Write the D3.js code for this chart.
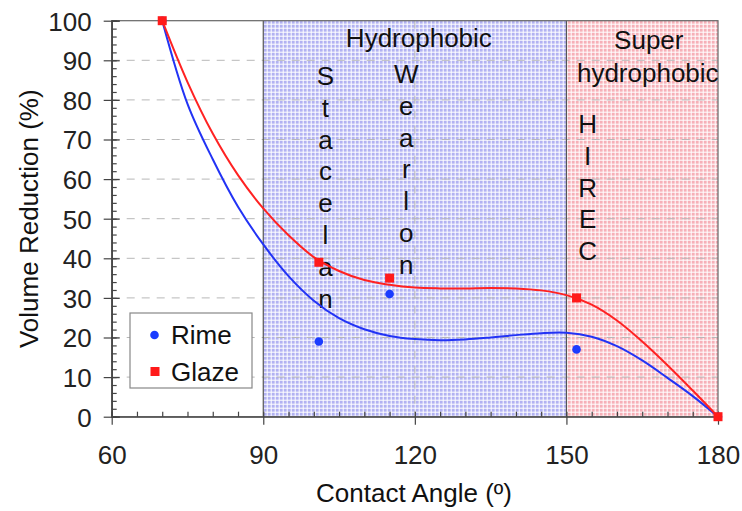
<!DOCTYPE html>
<html lang="en">
<head>
<meta charset="utf-8">
<title>Volume Reduction vs Contact Angle</title>
<script src="https://d3js.org/d3.v7.min.js"></script>
<style>
  html, body { margin: 0; padding: 0; background: #fff; }
  svg { font-family: "Liberation Sans", Arial, Helvetica, sans-serif; }
  .axis path, .axis line { stroke: #444; stroke-width: 1.2; }
  .axis text { font-size: 26px; fill: #222; }
  .grid line { stroke: #b8b8b8; stroke-dasharray: 8 7; stroke-width: 1; }
  .label { font-size: 26px; fill: #111; }
</style>
</head>
<body>
<svg id="chart" width="742" height="511"></svg>
<script>
// --- data ---
var xTicks = [60, 90, 120, 150, 180];
var yTicks = [0, 10, 20, 30, 40, 50, 60, 70, 80, 90, 100];

// measured points
var rimeAngle = [70, 101, 115, 152, 180];
var rimeValue = [100, 19, 31, 17, 0];
var glazeAngle = [70, 101, 115, 152, 180];
var glazeValue = [100, 39, 35, 30, 0];

// fitted trend curves, sampled from the figure
var fitAngle = [70, 75, 80, 85, 90, 95, 100, 105, 110, 115, 120, 125, 130, 135, 140, 145, 150, 155, 160, 165, 170, 175, 180];
var rimeFit = [100, 79, 65, 53, 43.5, 35.5, 29.3, 24.9, 22.1, 20.4, 19.6, 19.3, 19.5, 20, 20.6, 21.1, 21.2, 20.2, 17.8, 14.2, 9.8, 5.2, 0];
var glazeFit = [100, 84.5, 71.5, 61, 52.6, 45.8, 40.3, 36.8, 34.5, 33.3, 32.6, 32.4, 32.4, 32.5, 32.4, 31.9, 30.7, 28.3, 24.3, 19, 13, 6.6, 0];

// shaded regions
var regions = [
  {name: "Hydrophobic", from: 90, to: 150, fill: "url(#dotsBlue)"},
  {name: "Superhydrophobic", from: 150, to: 180, fill: "url(#dotsRed)"}
];

// coating names written vertically
var coatings = [
  {name: "Stacelan", angle: 102.3, top: 85},
  {name: "Wearlon", angle: 118.3, top: 83},
  {name: "HIREC", angle: 154.2, top: 133}
];

var svg = d3.select("#chart");
var m = {top: 20.7, right: 24, bottom: 94.3, left: 111.7};
var w = 742 - m.left - m.right,
    h = 511 - m.top - m.bottom;

var defs = svg.append("defs");
function dots(id, base) {
  var p = defs.append("pattern").attr("id", id)
    .attr("patternUnits", "userSpaceOnUse").attr("width", 4).attr("height", 4);
  p.append("rect").attr("width", 4).attr("height", 4).attr("fill", "#fff");
  p.append("rect").attr("width", 3).attr("height", 3).attr("fill", base);
}
dots("dotsBlue", "#b2b2f2");
dots("dotsRed", "#f6b0b8");

var g = svg.append("g").attr("transform", "translate(" + m.left + "," + m.top + ")");

var x = d3.scaleLinear().domain([60, 180]).range([0, w]);
var y = d3.scaleLinear().domain([0, 100]).range([h, 0]);

// regions
g.selectAll(".region").data(regions).enter().append("rect")
  .attr("x", function(d) { return x(d.from); })
  .attr("y", 0)
  .attr("width", function(d) { return x(d.to) - x(d.from); })
  .attr("height", h)
  .attr("fill", function(d) { return d.fill; });

// grid
g.append("g").attr("class", "grid")
  .selectAll("line").data(yTicks.slice(1, -1)).enter().append("line")
  .attr("x1", 0).attr("x2", w)
  .attr("y1", function(d) { return y(d); }).attr("y2", function(d) { return y(d); });
g.append("g").attr("class", "grid")
  .selectAll("line").data([120]).enter().append("line")
  .attr("y1", 0).attr("y2", h)
  .attr("x1", function(d) { return x(d); }).attr("x2", function(d) { return x(d); });

// region borders and frame
g.selectAll(".border").data([90, 150]).enter().append("line")
  .attr("x1", function(d) { return x(d); }).attr("x2", function(d) { return x(d); })
  .attr("y1", 0).attr("y2", h)
  .attr("stroke", "#555").attr("stroke-width", 1.2);
g.append("rect").attr("width", w).attr("height", h)
  .attr("fill", "none").attr("stroke", "#666").attr("stroke-width", 1.2);

// axes
g.append("g").attr("class", "axis")
  .attr("transform", "translate(0," + h + ")")
  .call(d3.axisBottom(x).tickValues(xTicks).tickSize(8).tickPadding(21).tickFormat(d3.format("d")))
  .call(function(s) { s.select(".domain").remove(); });
g.append("g").attr("class", "axis")
  .attr("transform", "translate(0," + h + ")")
  .call(d3.axisBottom(x).tickValues(d3.range(60, 181, 5)).tickSize(-5).tickFormat(""));
g.append("g").attr("class", "axis")
  .call(d3.axisLeft(y).tickValues(yTicks).tickSize(8).tickPadding(12))
  .call(function(s) { s.select(".domain").remove(); s.selectAll("text").attr("dy", "0.36em"); });
g.append("g").attr("class", "axis")
  .call(d3.axisLeft(y).tickValues(yTicks).tickSize(-8).tickFormat(""));
g.append("g").attr("class", "axis")
  .call(d3.axisLeft(y).tickValues(d3.range(0, 101, 2)).tickSize(-5).tickFormat(""));

// axis titles
svg.append("text").attr("class", "label")
  .attr("x", 414).attr("y", 502)
  .attr("text-anchor", "middle").text("Contact Angle (º)");
svg.append("text").attr("class", "label")
  .attr("transform", "translate(38," + (m.top + h / 2) + ") rotate(-90)")
  .attr("text-anchor", "middle").text("Volume Reduction (%)");

// region titles
g.append("text").attr("class", "label").attr("text-anchor", "middle")
  .attr("x", x(120) + 4).attr("y", 26).text("Hydrophobic");
g.append("text").attr("class", "label").attr("text-anchor", "middle")
  .attr("x", x(166.3)).attr("y", 28).text("Super");
g.append("text").attr("class", "label").attr("text-anchor", "middle")
  .attr("x", x(166.1)).attr("y", 61).text("hydrophobic");

// vertical coating names
coatings.forEach(function(c) {
  g.append("text").attr("class", "label").attr("text-anchor", "middle")
    .selectAll("tspan").data(c.name.split("")).enter().append("tspan")
    .attr("x", x(c.angle))
    .attr("y", function(d, i) { return c.top - m.top + i * 31.8; })
    .text(function(d) { return d; });
});

// trend curves
var line = d3.line().curve(d3.curveCatmullRom.alpha(0.5));
g.append("path")
  .attr("d", line(fitAngle.map(function(a, i) { return [x(a), y(rimeFit[i])]; })))
  .attr("fill", "none").attr("stroke", "#2233f5").attr("stroke-width", 2);
g.append("path")
  .attr("d", line(fitAngle.map(function(a, i) { return [x(a), y(glazeFit[i])]; })))
  .attr("fill", "none").attr("stroke", "#ff2222").attr("stroke-width", 2);

// points
g.selectAll(".rime").data(rimeAngle).enter().append("circle")
  .attr("cx", function(d) { return x(d); })
  .attr("cy", function(d, i) { return y(rimeValue[i]); })
  .attr("r", 4.3).attr("fill", "#1a3cff");
g.selectAll(".glaze").data(glazeAngle).enter().append("rect")
  .attr("x", function(d) { return x(d) - 4.5; })
  .attr("y", function(d, i) { return y(glazeValue[i]) - 4.5; })
  .attr("width", 9).attr("height", 9).attr("fill", "#ff1a1a");

// legend
var lg = svg.append("g").attr("transform", "translate(130,313)");
lg.append("rect").attr("width", 122).attr("height", 75)
  .attr("fill", "#fff").attr("stroke", "#888").attr("stroke-width", 1.2);
lg.append("circle").attr("cx", 24.5).attr("cy", 22).attr("r", 4.3).attr("fill", "#1a3cff");
lg.append("text").attr("class", "label").attr("x", 41).attr("y", 31).text("Rime");
lg.append("rect").attr("x", 20.5).attr("y", 54).attr("width", 9).attr("height", 9).attr("fill", "#ff1a1a");
lg.append("text").attr("class", "label").attr("x", 41).attr("y", 68).text("Glaze");
</script>
</body>
</html>
